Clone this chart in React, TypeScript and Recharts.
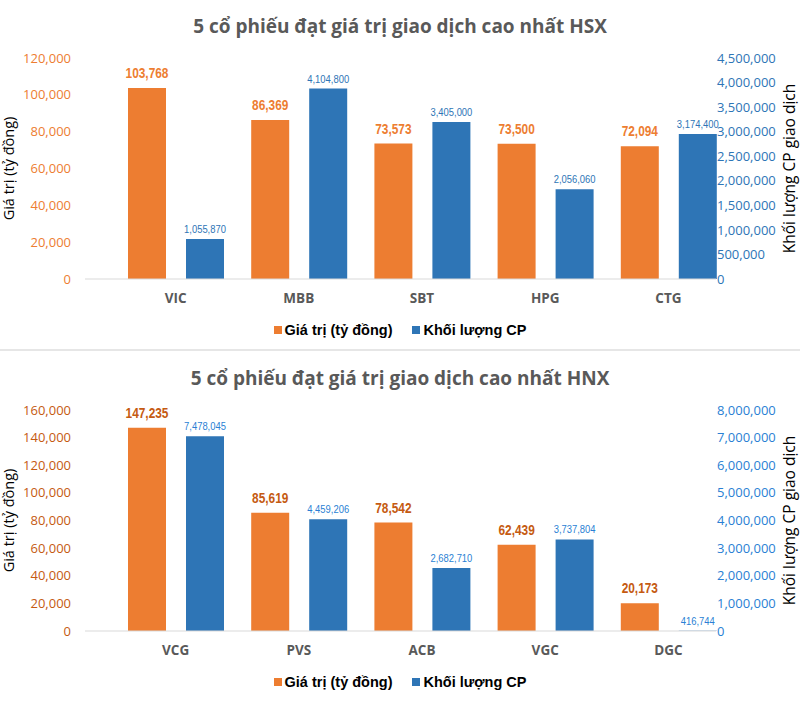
import { Bar, BarChart, LabelList, Legend, XAxis, YAxis } from 'recharts'

// HSX
const hsxStocks = ['VIC', 'MBB', 'SBT', 'HPG', 'CTG']
const hsxValue = [103768, 86369, 73573, 73500, 72094]
// bar heights as drawn in the picture (right axis)
const hsxVolume = [814000, 3877000, 3197000, 1827000, 2953000]
// numbers printed above the blue bars
const hsxVolumeLabel = [1055870, 4104800, 3405000, 2056060, 3174400]
const hsxValueTicks = [0, 20000, 40000, 60000, 80000, 100000, 120000]
const hsxVolumeTicks = [0, 500000, 1000000, 1500000, 2000000, 2500000, 3000000, 3500000, 4000000, 4500000]

// HNX
const hnxStocks = ['VCG', 'PVS', 'ACB', 'VGC', 'DGC']
const hnxValue = [147235, 85619, 78542, 62439, 20173]
const hnxVolume = [7046000, 4049000, 2283000, 3313000, 12000]
const hnxVolumeLabel = [7478045, 4459206, 2682710, 3737804, 416744]
const hnxValueTicks = [0, 20000, 40000, 60000, 80000, 100000, 120000, 140000, 160000]
const hnxVolumeTicks = [0, 1000000, 2000000, 3000000, 4000000, 5000000, 6000000, 7000000, 8000000]

const ORANGE = '#ED7D31'
const BLUE = '#2E75B6'
const fmt = (v: any) => Number(v).toLocaleString('en-US')

type PanelProps = {
  title: string
  stocks: string[]
  values: number[]
  volumes: number[]
  volumeLabels: number[]
  valueTicks: number[]
  volumeTicks: number[]
  valueText: string
  valueLabel: string
  volumeText: string
  volumeLabel: string
  top: number
}

const renderLegend = (props: any) => (
  <div
    style={{
      height: 22,
      display: 'flex',
      justifyContent: 'center',
      alignItems: 'center',
      gap: 20,
      fontFamily: '"Liberation Sans", Arial, sans-serif',
      fontWeight: 700,
      fontSize: 14.5,
      color: '#000',
    }}
  >
    {props.payload.map((entry: any) => (
      <span key={entry.value} style={{ display: 'flex', alignItems: 'center' }}>
        <span style={{ width: 8, height: 8, background: entry.color, marginRight: 3 }} />
        {entry.value}
      </span>
    ))}
  </div>
)

// Arial Narrow look: squeeze Liberation Sans horizontally
const narrowLabel = (fill: string, fontSize: number, bold: boolean, offset: number) => (props: any) => {
  const vb = props.viewBox || props
  const cx = vb.x + vb.width / 2
  const by = vb.y - offset
  const text = typeof props.value === 'number' ? fmt(props.value) : props.value
  return (
    <text
      transform={`translate(${cx},${by}) scale(0.82,1)`}
      textAnchor="middle"
      fill={fill}
      fontSize={fontSize}
      fontWeight={bold ? 700 : 400}
      fontFamily='"Liberation Sans", Arial, sans-serif'
    >
      {text}
    </text>
  )
}

function Panel(p: PanelProps) {
  const data = p.stocks.map((name, i) => ({
    name,
    value: p.values[i],
    volume: p.volumes[i],
    volumeLabel: p.volumeLabels[i],
  }))

  return (
    <div style={{ position: 'absolute', left: 0, top: p.top, width: 800, height: 350 }}>
      <div
        style={{
          position: 'absolute',
          top: 12,
          left: 0,
          width: 800,
          textAlign: 'center',
          lineHeight: '28px',
          fontFamily: '"Open Sans", sans-serif',
          fontWeight: 700,
          fontSize: 19,
          color: '#595959',
        }}
      >
        {p.title}
      </div>
      <BarChart width={800} height={350} data={data} margin={{ top: 58, right: 0, bottom: 9, left: 0 }} barSize={38} barGap={20}>
        <XAxis
          dataKey="name"
          height={40}
          padding={{ left: 29, right: -14 }}
          tickLine={false}
          tickSize={0}
          tickMargin={14}
          stroke="#d9d9d9"
          tick={{ fill: '#595959', fontSize: 13.5, fontWeight: 700, fontFamily: '"Open Sans", sans-serif' }}
        />
        <YAxis
          yAxisId="left"
          width={85}
          domain={[0, p.valueTicks[p.valueTicks.length - 1]]}
          ticks={p.valueTicks}
          interval={0}
          axisLine={false}
          tickLine={false}
          tickSize={0}
          tickMargin={14}
          tickFormatter={fmt}
          tick={{ fill: p.valueText, fontSize: 13, fontFamily: '"Open Sans", sans-serif' }}
          label={({ viewBox }: any) => {
            const cx = viewBox.x + 8.5
            const cy = viewBox.y + viewBox.height / 2
            return (
              <text x={cx} y={cy} dy="0.35em" textAnchor="middle" transform={`rotate(-90, ${cx}, ${cy})`} fill="#000" fontSize={14.5} fontFamily='"Open Sans", sans-serif'>
                Giá trị (tỷ đồng)
              </text>
            )
          }}
        />
        <YAxis
          yAxisId="right"
          orientation="right"
          width={84}
          domain={[0, p.volumeTicks[p.volumeTicks.length - 1]]}
          ticks={p.volumeTicks}
          interval={0}
          axisLine={false}
          tickLine={false}
          tickSize={0}
          tickMargin={1}
          tickFormatter={fmt}
          tick={{ fill: p.volumeText, fontSize: 13, fontFamily: '"Open Sans", sans-serif' }}
          label={({ viewBox }: any) => {
            const cx = viewBox.x + 74
            const cy = viewBox.y + viewBox.height / 2
            return (
              <text x={cx} y={cy} dy="0.35em" textAnchor="middle" transform={`rotate(-90, ${cx}, ${cy})`} fill="#000" fontSize={15.5} fontFamily='"Open Sans", sans-serif'>
                Khối lượng CP giao dịch
              </text>
            )
          }}
        />
        <Legend verticalAlign="bottom" content={renderLegend} />
        <Bar yAxisId="left" dataKey="value" name="Giá trị (tỷ đồng)" fill={ORANGE} isAnimationActive={false}>
          <LabelList dataKey="value" content={narrowLabel(p.valueLabel, 14.5, true, 10)} />
        </Bar>
        <Bar yAxisId="right" dataKey="volume" name="Khối lượng CP" fill={BLUE} isAnimationActive={false}>
          <LabelList dataKey="volumeLabel" content={narrowLabel(p.volumeLabel, 11.5, false, 6)} />
        </Bar>
      </BarChart>
    </div>
  )
}

export default function App() {
  return (
    <div style={{ position: 'absolute', left: 0, top: 0, width: 800, height: 728, background: '#fff' }}>
      <Panel
        title="5 cổ phiếu đạt giá trị giao dịch cao nhất HSX"
        stocks={hsxStocks}
        values={hsxValue}
        volumes={hsxVolume}
        volumeLabels={hsxVolumeLabel}
        valueTicks={hsxValueTicks}
        volumeTicks={hsxVolumeTicks}
        valueText={ORANGE}
        valueLabel={ORANGE}
        volumeText={BLUE}
        volumeLabel="#2E75B6"
        top={0}
      />
      <div style={{ position: 'absolute', left: 0, top: 349, width: 800, height: 2, background: '#e6e6e6' }} />
      <Panel
        title="5 cổ phiếu đạt giá trị giao dịch cao nhất HNX"
        stocks={hnxStocks}
        values={hnxValue}
        volumes={hnxVolume}
        volumeLabels={hnxVolumeLabel}
        valueTicks={hnxValueTicks}
        volumeTicks={hnxVolumeTicks}
        valueText="#C55A11"
        valueLabel="#C55A11"
        volumeText="#2A7FD4"
        volumeLabel="#2A7FD4"
        top={352}
      />
    </div>
  )
}
